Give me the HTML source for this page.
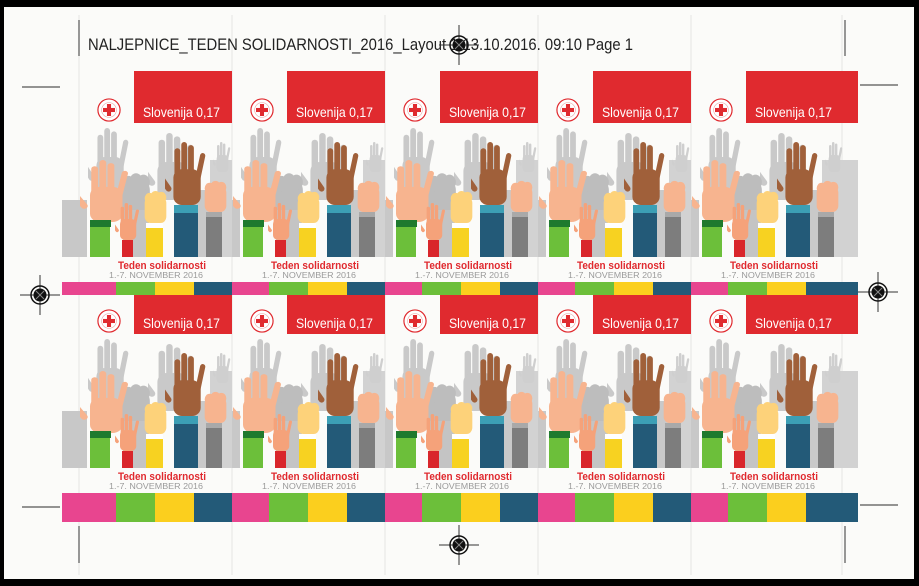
<!DOCTYPE html>
<html><head><meta charset="utf-8"><style>
html,body{margin:0;padding:0;background:#000;}
svg{display:block;}
</style></head><body>
<svg width="919" height="586" viewBox="0 0 919 586" xmlns="http://www.w3.org/2000/svg">
<defs>
<symbol id="oh" viewBox="0 0 40 60" preserveAspectRatio="none">
<rect x="9" y="6" width="5.5" height="32" rx="2.7"/>
<rect x="15.5" y="0" width="5.5" height="36" rx="2.7"/>
<rect x="22" y="3" width="5.5" height="34" rx="2.7"/>
<rect x="28.5" y="10" width="5" height="28" rx="2.5" transform="rotate(12 31 36)"/>
<rect x="2" y="24" width="5.5" height="22" rx="2.7" transform="rotate(-35 6 46)"/>
<rect x="8" y="26" width="26" height="34" rx="8"/>
</symbol>
<symbol id="fi" viewBox="0 0 30 35" preserveAspectRatio="none">
<rect x="2" y="7" width="26" height="28" rx="7"/>
<circle cx="8" cy="9" r="6"/><circle cx="15" cy="7" r="6"/><circle cx="22" cy="8" r="6"/>
</symbol>
<symbol id="logo" viewBox="-13 -13 26 26">
<circle r="12" fill="#fff" stroke="#e02a2f" stroke-width="1.3"/>
<circle r="8" fill="none" stroke="#e9a0a0" stroke-width="0.6"/>
<rect x="-6.5" y="-2.2" width="13" height="4.4" fill="#e02a2f"/>
<rect x="-2.2" y="-6.5" width="4.4" height="13" fill="#e02a2f"/>
</symbol>
<g id="art">
<rect x="0" y="140" width="8" height="57" fill="#c8c8c8"/>
<rect x="131" y="100" width="22" height="97" fill="#d2d2d2"/>
<use href="#oh" x="134" y="82" width="18" height="30" fill="#cfcfcf"/>
<use href="#oh" x="9" y="68" width="42" height="67" fill="#c9c9c9"/>
<use href="#oh" x="69" y="73" width="47" height="67" fill="#c9c9c9"/>
<use href="#fi" x="41" y="112" width="32" height="45" fill="#bdbdbd"/>
<rect x="44" y="150" width="26" height="47" fill="#c4c4c4"/>
<rect x="113" y="130" width="18" height="67" fill="#c9c9c9"/>
<use href="#oh" x="1" y="100" width="50" height="62" fill="#f7b48f"/>
<rect x="18" y="148" width="15" height="14" fill="#f7b48f"/>
<rect x="11" y="160" width="21" height="7" fill="#1f7a2e"/>
<rect x="11" y="167" width="20" height="30" fill="#6cbf3a"/>
<use href="#oh" x="36" y="143" width="25" height="37" fill="#f5a27a"/>
<rect x="43" y="180" width="11" height="17" fill="#d9262b"/>
<use href="#fi" x="64" y="130" width="25" height="33" fill="#fdd27a"/>
<rect x="67" y="163" width="17" height="5" fill="#fff"/>
<rect x="67" y="168" width="17" height="29" fill="#f7d221"/>
<use href="#oh" x="86" y="82" width="42" height="63" fill="#a0603a"/>
<rect x="95" y="145" width="24" height="8" fill="#3c9fb5"/>
<rect x="95" y="153" width="24" height="44" fill="#235a78"/>
<use href="#fi" x="124" y="120" width="25" height="32" fill="#f7b48f"/>
<rect x="127" y="152" width="16" height="5" fill="#a9a9a9"/>
<rect x="127" y="157" width="16" height="40" fill="#7d7d7d"/>
<use href="#logo" x="18" y="38" width="24" height="24"/>
<text x="64" y="57" font-family="Liberation Sans, sans-serif" font-size="14" fill="#fff" textLength="77" lengthAdjust="spacingAndGlyphs">Slovenija 0,17</text>
<text x="83" y="209" text-anchor="middle" font-family="Liberation Sans, sans-serif" font-weight="bold" font-size="11" fill="#e02a2f" textLength="88" lengthAdjust="spacingAndGlyphs">Teden solidarnosti</text>
<text x="77" y="218" text-anchor="middle" font-family="Liberation Sans, sans-serif" font-size="8" fill="#9a9a9a" textLength="94" lengthAdjust="spacingAndGlyphs">1.-7. NOVEMBER 2016</text>
</g>
<g id="stamp">
<rect x="55" y="11" width="98" height="52" fill="#e02a2f"/>
<use href="#art"/>
</g>
<g id="bar">
<rect x="0" y="0" width="37" height="1" fill="#e8458f"/>
<rect x="37" y="0" width="39" height="1" fill="#6cbf3a"/>
<rect x="76" y="0" width="39" height="1" fill="#fbcf1e"/>
<rect x="115" y="0" width="38" height="1" fill="#235a78"/>
</g>
</defs>
<rect x="4" y="7" width="910" height="572" fill="#fbfbf9"/>
<!-- perforation lines -->
<g stroke="#e6e6e4" stroke-width="1">
<line x1="79" y1="15" x2="79" y2="575"/><line x1="232" y1="15" x2="232" y2="575"/>
<line x1="385" y1="15" x2="385" y2="575"/><line x1="538" y1="15" x2="538" y2="575"/>
<line x1="691" y1="15" x2="691" y2="575"/><line x1="842" y1="15" x2="842" y2="575"/>
</g>
<!-- row 1 -->
<rect x="62" y="200" width="17" height="57" fill="#c8c8c8"/>
<rect x="842" y="71" width="16" height="52" fill="#e02a2f"/>
<rect x="842" y="160" width="16" height="97" fill="#d2d2d2"/>
<use href="#stamp" transform="translate(79,60)"/>
<use href="#stamp" transform="translate(232,60)"/>
<use href="#stamp" transform="translate(385,60)"/>
<use href="#stamp" transform="translate(538,60)"/>
<use href="#stamp" transform="translate(691,60)"/>
<!-- row 2 -->
<rect x="62" y="411" width="17" height="57" fill="#c8c8c8"/>
<rect x="842" y="282" width="16" height="52" fill="#e02a2f"/>
<rect x="842" y="371" width="16" height="97" fill="#d2d2d2"/>
<use href="#stamp" transform="translate(79,271)"/>
<use href="#stamp" transform="translate(232,271)"/>
<use href="#stamp" transform="translate(385,271)"/>
<use href="#stamp" transform="translate(538,271)"/>
<use href="#stamp" transform="translate(691,271)"/>
<!-- bars -->
<rect x="62" y="282" width="17" height="13" fill="#e8458f"/>
<rect x="842" y="282" width="16" height="13" fill="#235a78"/>
<g transform="translate(0,282) scale(1,13)">
<use href="#bar" x="79"/><use href="#bar" x="232"/><use href="#bar" x="385"/><use href="#bar" x="538"/><use href="#bar" x="691"/>
</g>
<rect x="62" y="493" width="17" height="29" fill="#e8458f"/>
<rect x="842" y="493" width="16" height="29" fill="#235a78"/>
<g transform="translate(0,493) scale(1,29)">
<use href="#bar" x="79"/><use href="#bar" x="232"/><use href="#bar" x="385"/><use href="#bar" x="538"/><use href="#bar" x="691"/>
</g>
<!-- crop marks -->
<g stroke="#555" stroke-width="1.2">
<line x1="22" y1="87" x2="60" y2="87"/><line x1="22" y1="507" x2="60" y2="507"/>
<line x1="860" y1="85" x2="898" y2="85"/><line x1="860" y1="505" x2="898" y2="505"/>
<line x1="79" y1="20" x2="79" y2="56"/><line x1="845" y1="20" x2="845" y2="56"/>
<line x1="79" y1="526" x2="79" y2="563"/><line x1="845" y1="526" x2="845" y2="563"/>
</g>
<text x="88" y="50" font-family="Liberation Sans, sans-serif" font-size="17" fill="#222" textLength="545" lengthAdjust="spacingAndGlyphs">NALJEPNICE_TEDEN SOLIDARNOSTI_2016_Layout 1  13.10.2016.  09:10  Page 1</text>
<!-- registration targets -->
<g id="reg" transform="translate(459,45)">
<line x1="-20" y1="0" x2="20" y2="0" stroke="#333" stroke-width="1"/>
<line x1="0" y1="-20" x2="0" y2="20" stroke="#333" stroke-width="1"/>
<circle r="9" fill="none" stroke="#111" stroke-width="1.5"/>
<circle r="6.5" fill="#111"/>
<line x1="-4" y1="-4" x2="4" y2="4" stroke="#888" stroke-width="1"/>
<line x1="-4" y1="4" x2="4" y2="-4" stroke="#888" stroke-width="1"/>
</g>
<use href="#reg" transform="translate(-419,250)"/>
<use href="#reg" transform="translate(419,247)"/>
<use href="#reg" transform="translate(0,500)"/>
</svg>
</body></html>
